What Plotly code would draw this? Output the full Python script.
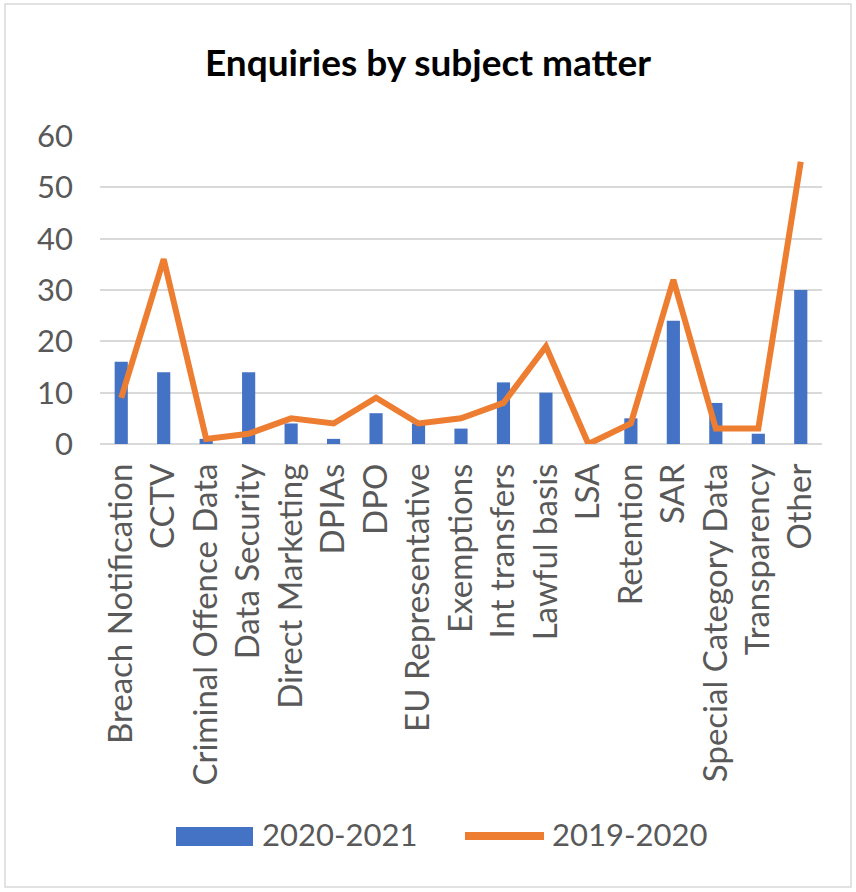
import plotly.graph_objects as go

categories = ["Breach Notification", "CCTV", "Criminal Offence Data", "Data Security",
              "Direct Marketing", "DPIAs", "DPO", "EU Representative", "Exemptions",
              "Int transfers", "Lawful basis", "LSA", "Retention", "SAR",
              "Special Category Data", "Transparency", "Other"]
values_2020_2021 = [16, 14, 1, 14, 4, 1, 6, 4, 3, 12, 10, 0, 5, 24, 8, 2, 30]
values_2019_2020 = [9, 36, 1, 2, 5, 4, 9, 4, 5, 8, 19, 0, 4, 32, 3, 3, 55]
y_ticks = [0, 10, 20, 30, 40, 50, 60]
series_names = ["2020-2021", "2019-2020"]

W, H = 856, 892
L, R, T, B = 100, 34, 136, 448
PW, PH = W - L - R, H - T - B
BLUE, ORANGE, GREY = "#4472C4", "#ED7D31", "#595959"


def px(x):
    return (x - L) / PW


def py(y):
    return (H - B - y) / PH


fig = go.Figure()
fig.add_trace(go.Bar(x=categories, y=values_2020_2021, name=series_names[0],
                     marker=dict(color=BLUE, line=dict(width=0))))
fig.add_trace(go.Scatter(x=categories, y=values_2019_2020, name=series_names[1],
                         mode="lines", line=dict(color=ORANGE, width=6)))

shapes = [
    # chart frame
    dict(type="rect", xref="paper", yref="paper", x0=px(5), x1=px(851), y0=py(887), y1=py(4),
         line=dict(color="#D9D9D9", width=1.5), fillcolor="rgba(0,0,0,0)", layer="below"),
    # legend symbols
    dict(type="rect", xref="paper", yref="paper", x0=px(176), x1=px(253), y0=py(846), y1=py(827),
         line=dict(width=0), fillcolor=BLUE),
    dict(type="line", xref="paper", yref="paper", x0=px(465), x1=px(544), y0=py(836), y1=py(836),
         line=dict(color=ORANGE, width=8)),
]
annotations = [
    dict(text=series_names[0], xref="paper", yref="paper", x=px(260), y=py(834),
         xanchor="left", yanchor="middle", showarrow=False,
         font=dict(family="Lato, sans-serif", size=31, color=GREY)),
    dict(text=series_names[1], xref="paper", yref="paper", x=px(550), y=py(834),
         xanchor="left", yanchor="middle", showarrow=False,
         font=dict(family="Lato, sans-serif", size=31, color=GREY)),
]

fig.update_layout(
    width=W, height=H,
    paper_bgcolor="white", plot_bgcolor="white",
    margin=dict(l=L, r=R, t=T, b=B),
    bargap=0.69,
    font=dict(family="Lato, sans-serif", color=GREY, size=32),
    title=dict(text="<b>Enquiries by subject matter</b>", x=0.5, xanchor="center",
               y=1 - 63 / H, yanchor="middle",
               font=dict(family="Lato, sans-serif", size=37, color="black")),
    showlegend=False,
    xaxis=dict(tickangle=-90, showgrid=False, showline=False, ticks="",
               tickfont=dict(size=33, color=GREY), ticklabelstandoff=12),
    yaxis=dict(range=[0, 60], tickvals=y_ticks, showgrid=True, gridcolor="#D9D9D9",
               gridwidth=1.5, zeroline=True, zerolinecolor="#D9D9D9", zerolinewidth=1.5,
               ticks="", tickfont=dict(size=31, color=GREY), ticklabelstandoff=26),
    shapes=shapes,
    annotations=annotations,
)

fig.write_html("out.html")
